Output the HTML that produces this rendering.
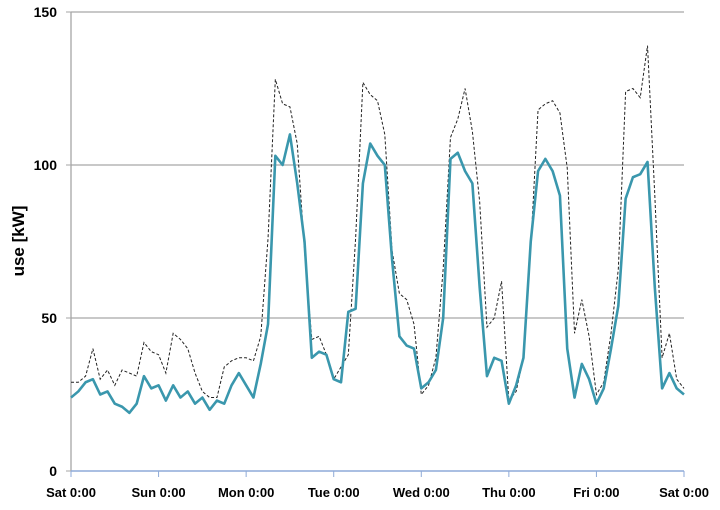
<!DOCTYPE html>
<html><head><meta charset="utf-8"><style>
body{margin:0;background:#fff;width:720px;height:505px;overflow:hidden}
svg text{font-family:"Liberation Sans",sans-serif;font-weight:bold;fill:#000}
</style></head><body>
<svg width="720" height="505">
<g id="grid"></g><g id="axes"></g><g id="series"></g>
<text transform="translate(24,241) rotate(-90)" text-anchor="middle" font-size="17">use [kW]</text>
</svg>
<script>
const dayLabels=["Sat 0:00","Sun 0:00","Mon 0:00","Tue 0:00","Wed 0:00","Thu 0:00","Fri 0:00","Sat 0:00"];
const yTicks=[0,50,100,150];
const actual=[24,26,29,30,25,26,22,21,19,22,31,27,
28,23,28,24,26,22,24,20,23,22,28,32,
28,24,35,48,103,100,110,94,75,37,39,38,
30,29,52,53,94,107,103,100,69,44,41,40,
27,29,33,50,102,104,98,94,60,31,37,36,
22,28,37,75,98,102,98,90,40,24,35,30,
22,27,40,54,89,96,97,101,60,27,32,27,25];
const baseline=[29,29,31,40,30,33,28,33,32,31,42,39,
38,32,45,43,40,32,26,24,24,34,36,37,
37,36,44,76,128,120,119,107,72,43,44,38,
30,34,38,76,127,123,121,110,72,58,56,48,
25,28,37,66,109,115,125,111,88,47,50,62,
23,26,37,73,118,120,121,117,99,45,56,44,
25,29,45,66,124,125,122,139,90,37,45,30,27];
const X0=71,X1=684,Y0=471,Y1=12,NS="http://www.w3.org/2000/svg";
const xs=i=>X0+(X1-X0)*i/(actual.length-1);
const ys=v=>Y0-(Y0-Y1)*v/150;
function mk(t,a,p){const e=document.createElementNS(NS,t);for(const k in a)e.setAttribute(k,a[k]);p.appendChild(e);return e;}
const grid=document.getElementById('grid'),axes=document.getElementById('axes'),ser=document.getElementById('series');
yTicks.forEach(v=>{
 if(v>0){const l=mk('line',{x1:X0,x2:X1,y1:ys(v),y2:ys(v),stroke:'#a6a6a6','stroke-width':1.3},grid);
 
 }
 const t=mk('text',{x:57,y:ys(v)+5,'text-anchor':'end','font-size':14},axes);t.textContent=v;
 
 
 const tk=mk('line',{x1:66,x2:X0,y1:ys(v),y2:ys(v),stroke:'#a6a6a6'},axes);
 
 
});
const ya=mk('line',{x1:X0,x2:X0,y1:Y1,y2:Y0,stroke:'#a6a6a6','stroke-width':1.3},axes);


const xa=mk('line',{x1:X0,x2:X1,y1:Y0,y2:Y0,stroke:'#8eaad8','stroke-width':1.5},axes);


dayLabels.forEach((d,i)=>{
 const x=X0+(X1-X0)*i/(dayLabels.length-1);
 const tk=mk('line',{x1:x,x2:x,y1:Y0,y2:Y0+6,stroke:'#8eaad8'},axes);
 
 
 const t=mk('text',{x:x,y:497,'text-anchor':'middle','font-size':13},axes);t.textContent=d;
 
 
});
const pb=mk('polyline',{points:baseline.map((v,i)=>xs(i)+','+ys(v)).join(' '),fill:'none',stroke:'#222','stroke-width':1,'stroke-dasharray':'3,2'},ser);


const pa=mk('polyline',{points:actual.map((v,i)=>xs(i)+','+ys(v)).join(' '),fill:'none',stroke:'#3a97ad','stroke-width':2.6,'stroke-linejoin':'round'},ser);


</script>
</body></html>
